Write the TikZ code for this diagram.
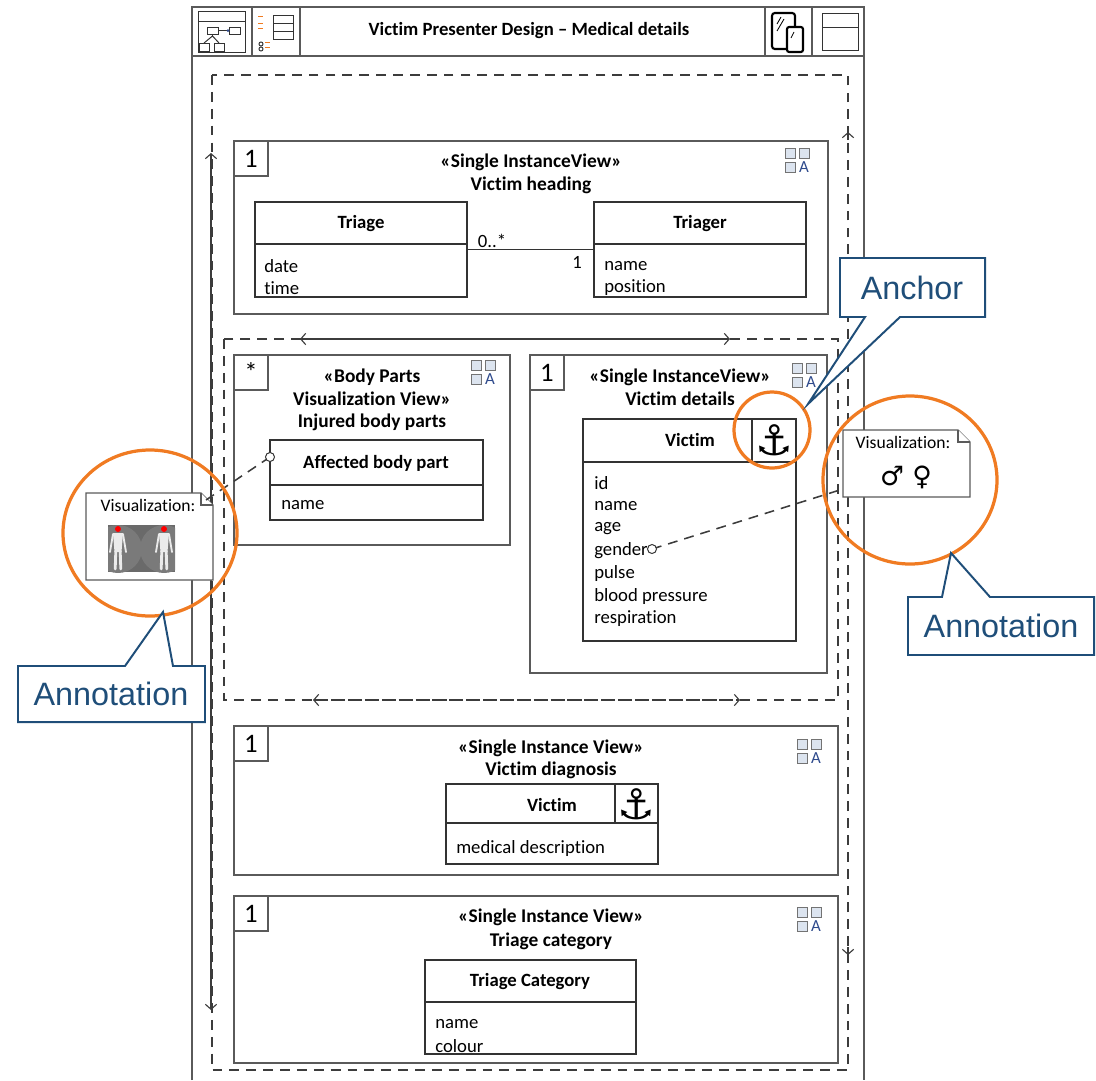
\documentclass[tikz,border=0pt]{standalone}
\usepackage{fontspec}
\setmainfont{Carlito}[Ligatures=NoCommon]
\newfontfamily\calloutfont{Liberation Sans}
\newfontfamily\symbolfont{DejaVu Sans}
\usetikzlibrary{fit,arrows.meta}

\definecolor{framegray}{HTML}{5A5A5A}
\definecolor{dashgray}{HTML}{3C3C3C}
\definecolor{ringorange}{HTML}{F07B22}
\definecolor{calloutblue}{HTML}{1F4E79}
\definecolor{iconfill}{HTML}{DCE4EF}
\definecolor{iconblue}{HTML}{2E4A8C}
\definecolor{figgray}{HTML}{6A6A6A}

\newcommand\txtsize{\fontsize{13.3}{16}\selectfont}
\newcommand\notesize{\fontsize{12.5}{14}\selectfont}

\tikzset{
  viewbox/.style={draw=framegray, line width=1pt, inner sep=0pt},
  classbox/.style={draw=black!80, line width=0.8pt, inner sep=0pt},
  numbox/.style={draw=framegray, line width=1pt, fill=white, anchor=north west,
    minimum width=0.85cm, minimum height=0.87cm, inner sep=0pt,
    font=\fontsize{19}{19}\selectfont},
  stereo/.style={font=\fontsize{13.8}{16}\selectfont\bfseries, inner sep=0pt},
  clsname/.style={font=\txtsize\bfseries, inner sep=0pt},
  attr/.style={font=\txtsize, anchor=west, inner sep=0pt},
  dashline/.style={draw=dashgray, line width=1.1pt, dash pattern=on 7pt off 5pt},
  flow/.style={draw=dashgray, line width=0.8pt},
  pin/.style={draw=black!80, fill=white, line width=0.7pt},
  notebox/.style={draw=framegray, fill=white, line width=0.8pt},
  ring/.style={draw=ringorange, line width=2.3pt},
  callout/.style={draw=calloutblue, fill=white, line width=1.4pt, line join=miter},
  callouttext/.style={font=\calloutfont\fontsize{23}{26}\selectfont, text=calloutblue},
  anchorsym/.style={font=\symbolfont\fontsize{30}{30}\selectfont, inner sep=0pt},
  icon/.style={draw=black!80, line width=0.7pt},
  iconsq/.style={draw=black!55, fill=iconfill, line width=0.6pt},
  >={Straight Barb[length=3.5pt,width=8pt]},
  layoutmark/.pic={
    \foreach \dx/\dy in {0/0,14/0,0/14}
      \draw[iconsq] (\dx,\dy) rectangle ++(10,10);
    \node[font=\fontsize{12}{12}\selectfont, text=iconblue, inner sep=0pt] at (19,19.5) {A};
  },
  bodyfig/.pic={
    \begin{scope}
      \clip (0,0) rectangle (67,47);
      \fill[figgray] (0,0) rectangle (67,47);
      \foreach \cx in {10,56} {
        \fill[black!52] (\cx,24) circle [radius=24];
        \fill[black!8] (\cx-5,8) -- (\cx+5,8) -- (\cx+3.5,27) -- (\cx-3.5,27) -- cycle;
        \draw[black!8, line width=1.3pt, line cap=round] (\cx-5,9) -- (\cx-8,27) (\cx+5,9) -- (\cx+8,27);
        \draw[black!8, line width=2pt, line cap=round] (\cx-2.2,26) -- (\cx-2.8,44) (\cx+2.2,26) -- (\cx+2.8,44);
        \fill[red] (\cx,4) circle [radius=3];
      }
    \end{scope}
  }
}

\begin{document}
\begin{tikzpicture}[x=0.025cm, y=-0.025cm]
\useasboundingbox (0,0) rectangle (1096,1080);

% window frame and header bar
\draw[viewbox] (192,1080) -- (192,7) -- (864,7) -- (864,1080);
\draw[viewbox] (192,56) -- (864,56);
\foreach \hx in {252,300,765,812}
  \draw[viewbox] (\hx,7) -- (\hx,56);
\node[font=\txtsize\bfseries] (title) at (529,31) {Victim Presenter Design – Medical details};

% header icons
\draw[icon] (198,11) rectangle (245,52);
\draw[icon] (198,21) -- (245,21);
\draw[icon] (207,27) rectangle (218,34);
\draw[icon] (229,27) rectangle (240,34);
\draw[icon] (218,30.5) -- (229,30.5);
\fill[iconblue] (228,30.5) circle [radius=1.5];
\draw[icon] (204,43) -- (212.5,36) -- (219,43) (212.5,34) -- (212.5,36);
\draw[icon] (199,43) rectangle (209,51);
\draw[icon] (214,43) rectangle (224,51);
\foreach \yy in {15,23,31}
  \draw[icon] (273,\yy) rectangle (293,\yy+8);
\foreach \yy in {16,23,28}
  \draw[ringorange, line width=0.6pt] (258,\yy) -- (263,\yy);
\foreach \yy in {44,49} {
  \draw[icon] (261,\yy) circle [radius=2];
  \draw[ringorange, line width=0.5pt] (265,\yy-2) -- (270,\yy-2);
}
\draw[black, line width=1.5pt, rounded corners=2pt] (772,13) rectangle (795,49);
\draw[black, line width=0.6pt] (777,24) -- (781,17) (777,31) -- (784,19);
\draw[black, line width=1.5pt, fill=white, rounded corners=1.5pt] (787,27) rectangle (803,52);
\draw[black, line width=0.5pt] (791,38) -- (794,32);
\draw[icon] (822,13) rectangle (858,50);
\draw[icon] (822,27) -- (858,27);

% outer flow region
\draw[dashline] (212,75) rectangle (848,1070);
\draw[flow, <->] (211,153) -- (211,1010);
\draw[flow, ->] (848,140) -- (848,132);
\draw[flow, ->] (848,947) -- (848,955);

% inner flow region
\draw[dashline] (224,339) rectangle (838,700);
\draw[flow, <->] (300,339) -- (730,339);
\draw[flow, <->, dash pattern=on 7pt off 5pt] (313,700) -- (740,700);

% view 1: victim heading
\node[viewbox, fit={(234,141) (828,314)}] (heading) {};
\node[numbox] (heading-n) at (heading.north west) {1};
\pic at (785,148) {layoutmark};
\node[stereo] (heading-st) at (531,162) {«Single InstanceView»};
\node[stereo] (heading-tt) at (531,185) {Victim heading};
\node[classbox, fit={(255,202) (467,297)}] (triage) {};
\draw[classbox] (255,244) -- (467,244);
\node[clsname] at (361,224) {Triage};
\node[attr] at (264,266) {date};
\node[attr] at (264,288) {time};
\node[classbox, fit={(594,202) (806,297)}] (triager) {};
\draw[classbox] (594,244) -- (806,244);
\node[clsname] at (700,224) {Triager};
\node[attr] at (604,266) {name};
\node[attr] at (604,288) {position};
\draw[classbox] (triage.east) -- (triager.west);
\node[font=\txtsize] at (492,241) {0..*};
\node[font=\txtsize] at (577,262) {1};

% view 2: injured body parts
\node[viewbox, fit={(234,355) (510,545)}] (bodyparts) {};
\node[numbox] (bodyparts-n) at (bodyparts.north west) {*};
\pic at (471,360) {layoutmark};
\node[stereo] at (372,377) {«Body Parts};
\node[stereo] at (372,399) {Visualization View»};
\node[stereo] at (372,422) {Injured body parts};
\node[classbox, fit={(270,440) (483,520)}] (affected) {};
\draw[classbox] (270,485) -- (483,485);
\node[clsname] at (376,463) {Affected body part};
\node[attr] at (281,505) {name};
\coordinate (affected-pin) at (270,457);

% view 3: victim details
\node[viewbox, fit={(530,355) (827,673)}] (details) {};
\node[numbox] (details-n) at (details.north west) {1};
\pic at (792,363) {layoutmark};
\node[stereo] at (680,377) {«Single InstanceView»};
\node[stereo] at (680,399) {Victim details};
\node[classbox, fit={(583,419) (796,641)}] (victim) {};
\draw[classbox] (583,462) -- (796,462);
\draw[classbox] (752,419) -- (752,462);
\node[clsname] at (690,440) {Victim};
\node[anchorsym] (victim-anchor) at (774,440) {⚓};
\foreach \t [count=\i] in {id,name,age,gender,pulse,blood pressure,respiration}
  \node[attr] at (594,{483+22.6*(\i-1)}) {\t};
\coordinate (victim-pin) at (652,549);

% view 4: victim diagnosis
\node[viewbox, fit={(234,726) (838,875)}] (diagnosis) {};
\node[numbox] (diagnosis-n) at (diagnosis.north west) {1};
\pic at (797,739) {layoutmark};
\node[stereo] at (551,748) {«Single Instance View»};
\node[stereo] at (551,770) {Victim diagnosis};
\node[classbox, fit={(446,784) (658,864)}] (victim2) {};
\draw[classbox] (446,823) -- (658,823);
\draw[classbox] (615,784) -- (615,823);
\node[clsname] at (552,805) {Victim};
\node[anchorsym] (victim2-anchor) at (636.5,804) {⚓};
\node[attr] at (456,848) {medical description};

% view 5: triage category
\node[viewbox, fit={(234,896) (838,1063)}] (category) {};
\node[numbox] (category-n) at (category.north west) {1};
\pic at (797,907) {layoutmark};
\node[stereo] at (551,917) {«Single Instance View»};
\node[stereo] at (551,941) {Triage category};
\node[classbox, fit={(425,960) (636,1054)}] (trcat) {};
\draw[classbox] (425,1002) -- (636,1002);
\node[clsname] at (530,982) {Triage Category};
\node[attr] at (435,1024) {name};
\node[attr] at (435,1046) {colour};

% visualization notes
\draw[notebox] (86,493) -- (201,493) -- (213,505) -- (213,580) -- (86,580) -- cycle;
\draw[notebox] (201,493) -- (201,505) -- (213,505);
\node[font=\notesize] (visleft) at (148,505) {Visualization:};
\pic at (108,525) {bodyfig};
\coordinate (visleft-pin) at (206,500);

\draw[notebox] (843,430) -- (958,430) -- (970,442) -- (970,497) -- (843,497) -- cycle;
\draw[notebox] (958,430) -- (958,442) -- (970,442);
\node[font=\notesize] (visright) at (903,442) {Visualization:};
\node[font=\symbolfont\fontsize{19}{19}\selectfont] (gender) at (906,477) {♂ ♀};
\coordinate (visright-pin) at (843,489);

% note links
\draw[dashline] (affected-pin) -- (visleft-pin);
\draw[dashline] (victim-pin) -- (visright-pin);
\draw[pin] (affected-pin) circle [radius=4.5];
\draw[pin] (victim-pin) circle [radius=4.5];

% highlight rings
\draw[ring] (150,533) ellipse [x radius=87, y radius=83];
\draw[ring] (772,430) ellipse [x radius=38, y radius=38];
\draw[ring] (910,480) ellipse [x radius=87, y radius=84];

% callouts
\draw[callout] (840,258) -- (985,258) -- (985,317) -- (900,317) -- (808,404)
  -- (865,317) -- (840,317) -- cycle;
\node[callouttext] (anchorlbl) at (912,288) {Anchor};
\draw[callout] (908,597) -- (942,597) -- (951,553) -- (990,597) -- (1094,597)
  -- (1094,655) -- (908,655) -- cycle;
\node[callouttext] (annotright) at (1001,626) {Annotation};
\draw[callout] (18,666) -- (125,666) -- (163,612) -- (173,666) -- (205,666)
  -- (205,722) -- (18,722) -- cycle;
\node[callouttext] (annotleft) at (111,694) {Annotation};
\end{tikzpicture}
\end{document}
